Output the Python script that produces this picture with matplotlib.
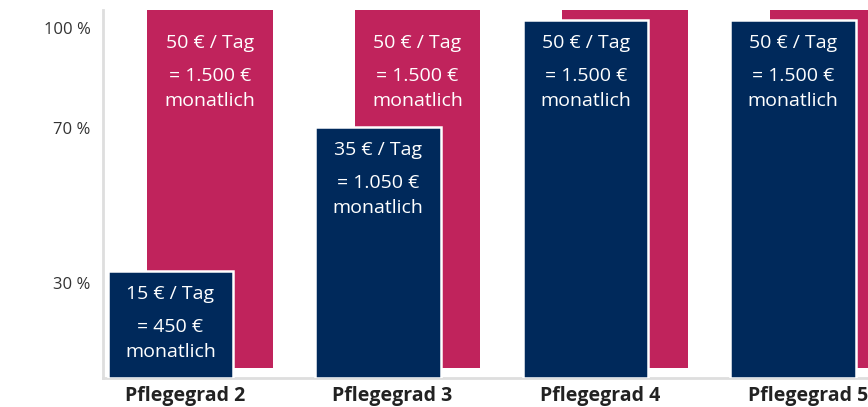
import matplotlib
matplotlib.use("Agg")
import matplotlib.pyplot as plt
import numpy as np

# ── Data ──────────────────────────────────────────────────────────────────────
grades = ["Pflegegrad 2", "Pflegegrad 3", "Pflegegrad 4", "Pflegegrad 5"]
pct_share = [30, 70, 100, 100]          # share of full rate (blue bars)
euro_day = [15, 35, 50, 50]             # € per day
euro_month = [450, 1050, 1500, 1500]    # € per month
full_day = 50                           # full rate (pink bars)
full_month = 1500
full_pct = 100

ytick_labels = ["30 %", "70 %", "100 %"]
ytick_pos = [26.6, 69.7, 97.8]          # where the labels sit in the original

# ── Style ─────────────────────────────────────────────────────────────────────
C = {
    "pink":  "#C0235C",
    "navy":  "#00295B",
    "spine": "#DEDEDE",
    "text":  "#333333",
    "label": "#222222",
}
FONT = "Open Sans"
plt.rcParams["font.family"] = [FONT, "DejaVu Sans"]
PT = 0.72   # points per pixel at dpi 100


def _de(n):
    return f"{n:,}".replace(",", ".")


def _bar_text(ax, x, y, day, month):
    # three lines, placed in pixels below the bar's value level
    lines = [(f"{day} € / Tag", 23), (f"= {_de(month)} €", 56), ("monatlich", 81)]
    for txt, off in lines:
        ax.annotate(txt, (x, y), xytext=(0, -off * PT),
                    textcoords="offset points", ha="center", va="center",
                    color="white", fontsize=14, zorder=6)


fig = plt.figure(figsize=(8.68, 4.07), dpi=100)
ax = fig.add_axes([103 / 868, 1 - 378 / 407, 1 - 103 / 868, (378 - 10) / 407])

x = np.arange(len(grades))
width = 0.605
shift_x = 0.19      # pink bar sits a bit to the right ...
shift_y = 2.8       # ... and a bit higher

ax.bar(x + shift_x, [full_pct] * len(x), width=width, bottom=shift_y,
       color=C["pink"], zorder=2)
ax.bar(x, pct_share, width=width, color=C["navy"],
       edgecolor="white", linewidth=1.8, zorder=3)

for xi, p, d, m in zip(x, pct_share, euro_day, euro_month):
    if p < full_pct:
        _bar_text(ax, xi + shift_x, full_pct, full_day, full_month)
    _bar_text(ax, xi, p, d, m)

ax.set_xlim(-0.325, 3.36)
ax.set_ylim(0, 102.8)

ax.set_yticks(ytick_pos)
ax.set_yticklabels(ytick_labels, color=C["text"], fontsize=12)
ax.set_xticks(x + 0.07)
ax.set_xticklabels(grades, color=C["label"], fontsize=14, fontweight="bold")
ax.tick_params(axis="y", length=0, pad=9)
ax.tick_params(axis="x", length=0, pad=6)

for side in ("top", "right"):
    ax.spines[side].set_visible(False)
for side in ("left", "bottom"):
    ax.spines[side].set_color(C["spine"])
    ax.spines[side].set_linewidth(2)
    ax.spines[side].set_zorder(1)

fig.savefig("out.png", dpi=100, facecolor="white")
